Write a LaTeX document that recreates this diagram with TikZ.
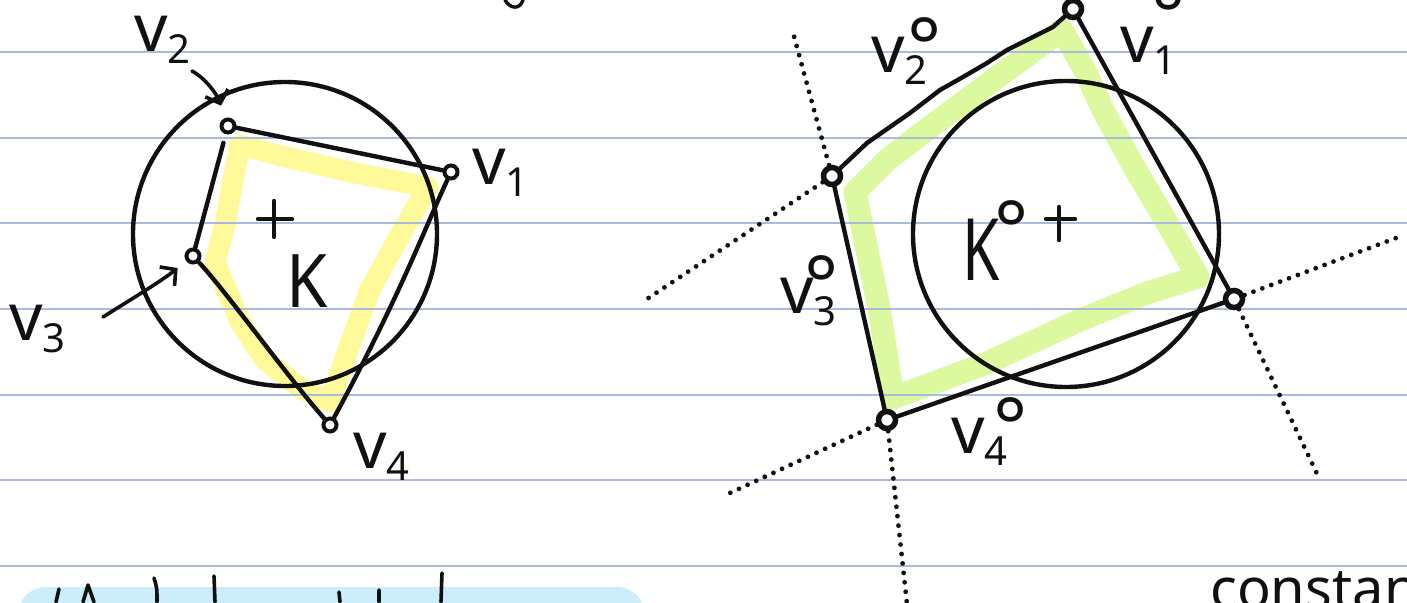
\documentclass[tikz,border=0pt]{standalone}
\usepackage{fontspec}
\setmainfont{Noto Sans}
\usepackage{tikz}
\usetikzlibrary{arrows.meta}
\definecolor{ink}{HTML}{111111}
\definecolor{ruleblue}{HTML}{A9BADA}
\definecolor{hlyellow}{HTML}{FFFA99}
\definecolor{hlgreen}{HTML}{DCF9A0}
\definecolor{boxblue}{HTML}{CCEEFA}
\tikzset{
  pen/.style={draw=ink, line width=4.4pt, line cap=round, line join=round},
  vtx/.style={circle, draw=ink, fill=white, line width=4pt, inner sep=0pt, minimum size=13pt},
  pvtx/.style={circle, draw=ink, fill=white, line width=5.5pt, inner sep=0pt, minimum size=17pt},
  lab/.style={anchor=base west, inner sep=0pt, font=\fontsize{66}{70}\selectfont, text=ink},
}
\newcommand{\vsub}[1]{v\raisebox{-12pt}{\fontsize{40}{40}\selectfont #1}}
% v, subscript, ring; #2 = gap before the ring, #3 = lift of the ring
\newcommand{\vpol}[3]{v\rlap{\raisebox{-12pt}{\fontsize{40}{40}\selectfont #1}}\hspace{#2}\raisebox{#3}{\fontsize{80}{80}\selectfont °}}

\begin{document}
\begin{tikzpicture}[x=1pt, y=-1pt,
  hilite/.style={line width=21pt, line cap=round, line join=round},
  dotline/.style={draw=ink, line width=4.8pt, line cap=round, dash pattern=on 0pt off 9.5pt},
  ptr/.style={pen, line width=3.6pt, -{Straight Barb[length=11pt, width=24pt]}}]
\useasboundingbox (0,0) rectangle (1407,602);
\clip (0,0) rectangle (1407,602);
% highlights under the ruling
\draw[hilite, hlyellow] (240,145) -- (290,158) -- (355,173) -- (428,187) -- (400,235) -- (370,290)
  -- (348,350) -- (330,402) -- (300,388) -- (265,360) -- (240,322) -- (215,262) -- (225,225) -- (232,185) -- cycle;
\draw[hilite, hlgreen, line width=23pt] (1062,30) -- (1083,67) -- (1103,110) -- (1130,160) -- (1167,223)
  -- (1198,277) -- (1147,293) -- (1080,320) -- (987,363) -- (893,398) -- (880,313) -- (855,192)
  -- (887,160) -- (930,127) -- (1007,70) -- cycle;
\fill[boxblue, rounded corners=28pt] (18,587) rectangle (645,660);
\foreach \k in {0,...,6}
  \draw[ruleblue, line width=2pt] (0,52+85.67*\k) -- (1407,52+85.67*\k);

% K and its vertices
\draw[pen] (285,234) circle (152);
\node[vtx] (v1) at (451,172) {};
\node[vtx] (v2) at (228,126) {};
\node[vtx] (v3) at (193,256) {};
\node[vtx] (v4) at (330,425) {};
\draw[pen] (v2) -- (v1);
\draw[pen] (v1) .. controls (425,228) and (398,300) .. (v4);
\draw[pen] (v3) .. controls (225,290) and (290,380) .. (v4);
\draw[pen, shorten >=9pt] (v3) -- (v2);
\draw[pen] (258,219) -- (292,219) (274,201) -- (274,237);
\node[lab] (lv1) at (472,184) {\vsub{1}};
\node[lab] (lv2) at (134,52) {\vsub{2}};
\node[lab] (lv3) at (9,340) {\vsub{3}};
\node[lab] (lv4) at (353,468) {\vsub{4}};
\node[lab, font=\fontsize{74}{78}\selectfont] (k) at (286,307) {\scalebox{0.9}[1]{K}};
\coordinate (a2) at (192,71);
\coordinate (a3) at (103,317);
\draw[ptr, shorten >=13pt] (a2) .. controls (205,78) and (217,94) .. (v2);
\draw[ptr, shorten >=11pt] (a3) .. controls (130,300) and (160,282) .. (v3);

% polar body
\draw[pen] (1066,234) circle (153);
\node[pvtx] (qt) at (1073,9) {};
\node[pvtx] (ql) at (832,176) {};
\node[pvtx] (qb) at (887,420) {};
\node[pvtx] (qr) at (1234,299) {};
\coordinate (d1) at (792,29);
\coordinate (d2) at (907,604);
\coordinate (d3) at (647,299);
\coordinate (d4) at (730,493);
\coordinate (d5) at (1396,238);
\coordinate (d6) at (1320,480);
\draw[dotline] (ql) -- (d1);
\draw[dotline] (ql) -- (d3);
\draw[dotline] (qb) -- (d2);
\draw[dotline] (qb) -- (d4);
\draw[dotline] (qr) -- (d5);
\draw[dotline] (qr) -- (d6);
\draw[pen] (qt) -- (qr);
\draw[pen] (ql) -- (qb);
\draw[pen] (qb) -- (qr);
\draw[pen] (qt) -- (1053,27) -- (1033,37) -- (1007,50) -- (987,63) -- (963,77) -- (940,90)
  -- (910,113) -- (867,143) -- (ql);
\draw[pen] (1046,219) -- (1075,219) (1059,207) -- (1059,240);
\node[lab] (lp1) at (1120,63) {\vpol{1}{-2pt}{19pt}};
\node[lab] (lp2) at (871,72) {\vpol{2}{3pt}{-3pt}};
\node[lab] (lp3) at (780,313) {\vpol{3}{-9pt}{0pt}};
\node[lab] (lp4) at (951,453) {\vpol{4}{9pt}{-2pt}};
\node[lab, font=\fontsize{86}{90}\selectfont] (kpol) at (962,280)
  {\scalebox{0.7}[1]{K}\hspace{-5pt}\raisebox{22pt}{\fontsize{80}{80}\selectfont °}};

% cut-off writing at the page edges
\draw[pen, line width=3.4pt] (505,0) .. controls (510,9) and (520,10) .. (523,0);
\node[lab, font=\fontsize{56}{60}\selectfont] (cst) at (1210,608) {constant};
\draw[pen, line width=3.6pt] (56,602) -- (59,589) (83,602) -- (88,585) -- (94,602)
  (154,578) .. controls (157,588) .. (157,602) (214,576) -- (215,602)
  (339,592) -- (340,602) (379,590) -- (379,602) (442,573) -- (441,602);
\end{tikzpicture}
\end{document}
